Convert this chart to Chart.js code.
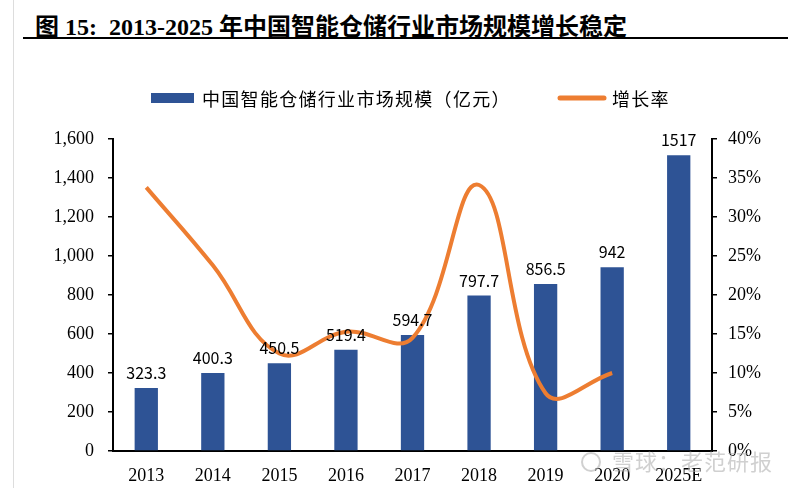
<!DOCTYPE html>
<html>
<head>
<meta charset="utf-8">
<script src="https://cdn.jsdelivr.net/npm/chart.js@4.4.0/dist/chart.umd.min.js"></script>
<style>
  body { margin: 0; background: #fff; width: 800px; height: 488px; overflow: hidden; position: relative; }
  #title { position: absolute; left: 35px; top: 7px; font: bold 24px "Liberation Serif", "Noto Sans CJK SC"; color: #000; white-space: nowrap; }
  #rule { position: absolute; left: 23px; right: 12px; top: 37px; border-top: 2px solid #000; }
  #edge { position: absolute; left: 13px; top: 0; bottom: 0; border-left: 1px solid #ddd; }
  #myChart { position: absolute; left: 0; top: 0; }
</style>
</head>
<body>
<div id="edge"></div>
<div id="title">图 15:&nbsp; 2013-2025 年中国智能仓储行业市场规模增长稳定</div>
<div id="rule"></div>
<canvas id="myChart" width="800" height="488"></canvas>
<script>
// data
var years = ['2013', '2014', '2015', '2016', '2017', '2018', '2019', '2020', '2025E'];
var marketSize = [323.3, 400.3, 450.5, 519.4, 594.7, 797.7, 856.5, 942, 1517];
var sizeLabels = ['323.3', '400.3', '450.5', '519.4', '594.7', '797.7', '856.5', '942', '1517'];
var growthRate = [33.8, 23.8, 12.5, 15.3, 14.5, 34.1, 7.4, 10.0, null];

var blue = '#2E5395';
var orange = '#ED7D31';

// value labels above bars
var barLabels = {
    id: 'barLabels',
    afterDatasetsDraw: function (chart) {
        var ctx = chart.ctx;
        var meta = chart.getDatasetMeta(1);
        ctx.save();
        ctx.font = '16px "Noto Sans CJK SC"';
        ctx.fillStyle = '#000';
        ctx.textAlign = 'center';
        ctx.textBaseline = 'bottom';
        meta.data.forEach(function (bar, i) {
            ctx.fillText(sizeLabels[i], bar.x, bar.y - 7);
        });
        ctx.restore();
    }
};

// legend + watermark
var extras = {
    id: 'extras',
    afterDraw: function (chart) {
        var ctx = chart.ctx;
        ctx.save();
        ctx.fillStyle = blue;
        ctx.fillRect(151, 93, 43, 10);
        ctx.strokeStyle = orange;
        ctx.lineWidth = 5;
        ctx.lineCap = 'round';
        ctx.beginPath();
        ctx.moveTo(560, 98);
        ctx.lineTo(604, 98);
        ctx.stroke();
        ctx.font = '18px "Noto Sans CJK SC"';
        ctx.letterSpacing = '1.3px';
        ctx.fillStyle = '#000';
        ctx.textBaseline = 'middle';
        ctx.fillText('中国智能仓储行业市场规模（亿元）', 202, 99);
        ctx.fillText('增长率', 612, 99);
        // watermark
        ctx.font = '22px "Noto Sans CJK SC"';
        ctx.letterSpacing = '1px';
        ctx.fillStyle = 'rgba(170,170,170,0.55)';
        ctx.fillText('雪球：老范研报', 612, 462);
        ctx.strokeStyle = 'rgba(170,170,170,0.55)';
        ctx.lineWidth = 2;
        ctx.beginPath();
        ctx.arc(591, 462, 9, 0, Math.PI * 2);
        ctx.stroke();
        ctx.restore();
    }
};

var ctx = document.getElementById('myChart').getContext('2d');
var chart = new Chart(ctx, {
    type: 'bar',
    data: {
        labels: years,
        datasets: [{
            type: 'line',
            label: '增长率',
            data: growthRate,
            yAxisID: 'y1',
            borderColor: orange,
            backgroundColor: orange,
            borderWidth: 4,
            pointRadius: 0,
            tension: 0.4,
            fill: false,
            order: 0
        }, {
            label: '中国智能仓储行业市场规模（亿元）',
            data: marketSize,
            yAxisID: 'y',
            backgroundColor: blue,
            borderWidth: 0,
            categoryPercentage: 1,
            barPercentage: 0.35,
            order: 1
        }]
    },
    options: {
        responsive: false,
        animation: false,
        layout: { padding: { top: 139, left: 0, right: 0, bottom: 0 } },
        plugins: {
            legend: { display: false },
            tooltip: { enabled: false }
        },
        scales: {
            x: {
                offset: true,
                grid: { display: false },
                border: { color: '#000', width: 2 },
                ticks: { color: '#000', font: { family: 'Liberation Serif', size: 18 }, padding: 6 },
                afterFit: function (s) { s.height = 37; }
            },
            y: {
                position: 'left',
                min: 0,
                max: 1600,
                ticks: {
                    stepSize: 200,
                    color: '#000',
                    padding: 14,
                    font: { family: 'Liberation Serif', size: 18 },
                    callback: function (v) { return v.toLocaleString('en-US'); }
                },
                grid: { drawOnChartArea: false, color: '#000', tickLength: 5, lineWidth: 1.5 },
                border: { color: '#000', width: 2 },
                afterFit: function (s) { s.width = 113; }
            },
            y1: {
                position: 'right',
                min: 0,
                max: 40,
                ticks: {
                    stepSize: 5,
                    color: '#000',
                    padding: 11,
                    font: { family: 'Liberation Serif', size: 18 },
                    callback: function (v) { return v + '%'; }
                },
                grid: { drawOnChartArea: false, color: '#000', tickLength: 5, lineWidth: 1.5 },
                border: { color: '#000', width: 2 },
                afterFit: function (s) { s.width = 88; }
            }
        }
    },
    plugins: [barLabels, extras]
});
</script>
</body>
</html>
